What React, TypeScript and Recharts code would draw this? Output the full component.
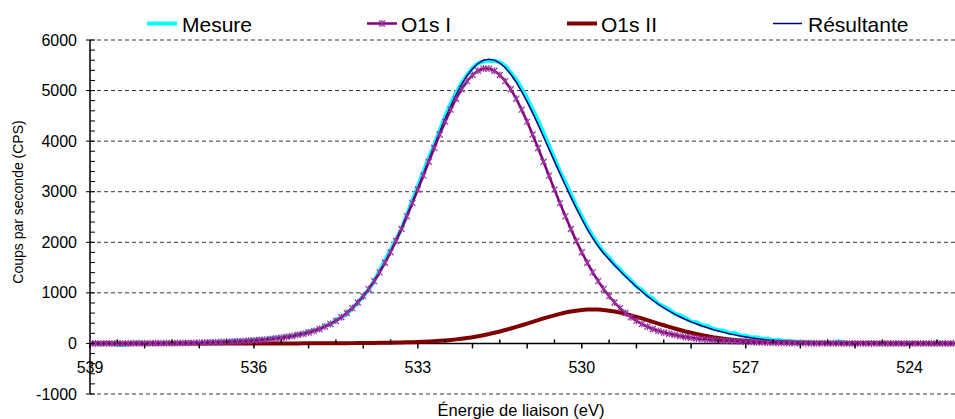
import React from "react"
import { LineChart, Line, XAxis, YAxis, ReferenceLine } from "recharts"

// énergie de liaison (eV), pas de 0.1 eV
const ENERGY = [
  539.0, 538.9, 538.8, 538.7, 538.6, 538.5, 538.4, 538.3, 538.2, 538.1,
  538.0, 537.9, 537.8, 537.7, 537.6, 537.5, 537.4, 537.3, 537.2, 537.1,
  537.0, 536.9, 536.8, 536.7, 536.6, 536.5, 536.4, 536.3, 536.2, 536.1,
  536.0, 535.9, 535.8, 535.7, 535.6, 535.5, 535.4, 535.3, 535.2, 535.1,
  535.0, 534.9, 534.8, 534.7, 534.6, 534.5, 534.4, 534.3, 534.2, 534.1,
  534.0, 533.9, 533.8, 533.7, 533.6, 533.5, 533.4, 533.3, 533.2, 533.1,
  533.0, 532.9, 532.8, 532.7, 532.6, 532.5, 532.4, 532.3, 532.2, 532.1,
  532.0, 531.9, 531.8, 531.7, 531.6, 531.5, 531.4, 531.3, 531.2, 531.1,
  531.0, 530.9, 530.8, 530.7, 530.6, 530.5, 530.4, 530.3, 530.2, 530.1,
  530.0, 529.9, 529.8, 529.7, 529.6, 529.5, 529.4, 529.3, 529.2, 529.1,
  529.0, 528.9, 528.8, 528.7, 528.6, 528.5, 528.4, 528.3, 528.2, 528.1,
  528.0, 527.9, 527.8, 527.7, 527.6, 527.5, 527.4, 527.3, 527.2, 527.1,
  527.0, 526.9, 526.8, 526.7, 526.6, 526.5, 526.4, 526.3, 526.2, 526.1,
  526.0, 525.9, 525.8, 525.7, 525.6, 525.5, 525.4, 525.3, 525.2, 525.1,
  525.0, 524.9, 524.8, 524.7, 524.6, 524.5, 524.4, 524.3, 524.2, 524.1,
  524.0, 523.9, 523.8, 523.7, 523.6, 523.5, 523.4, 523.3, 523.2,
]

const MESURE = [
  -12, 8, -20, 15, -6, -24, -33, -15, 7, 21,
  -6, 13, -12, 6, 20, -4, 15, 2, 27, 9,
  0, 26, 34, 18, 41, 22, 48, 60, 38, 66,
  71, 84, 70, 104, 118, 108, 148, 139, 190, 184,
  236, 262, 280, 352, 377, 466, 512, 590, 690, 808,
  935, 1060, 1230, 1442, 1648, 1850, 2058, 2265, 2548, 2830,
  3110, 3395, 3670, 3930, 4210, 4490, 4745, 4960, 5150, 5310,
  5445, 5540, 5575, 5585, 5590, 5560, 5490, 5360, 5215, 5040,
  4850, 4630, 4410, 4165, 3920, 3655, 3400, 3190, 2960, 2713,
  2516, 2296, 2122, 1957, 1805, 1702, 1560, 1463, 1340, 1251,
  1126, 1061, 952, 889, 786, 729, 673, 588, 558, 501,
  435, 420, 359, 347, 289, 266, 252, 202, 207, 159,
  151, 119, 122, 88, 96, 62, 70, 45, 52, 30,
  38, 14, 28, 5, 22, -4, 12, 40, 18, -10,
  15, 6, -8, 20, 4, -12, 10, -5, 16, -14,
  2, 12, -9, 7, -16, 5, 14, -6, 9,
]

const O1S_I = [
  0, 0, 0, 0, 1, 1, 1, 1, 2, 2,
  2, 3, 3, 4, 5, 6, 7, 8, 10, 12,
  14, 17, 20, 23, 27, 31, 36, 41, 46, 52,
  59, 67, 76, 86, 98, 112, 128, 145, 168, 190,
  217, 248, 286, 331, 384, 446, 518, 602, 699, 809,
  934, 1075, 1232, 1406, 1596, 1803, 2026, 2263, 2513, 2774,
  3043, 3317, 3592, 3865, 4131, 4385, 4622, 4838, 5027, 5186,
  5308, 5392, 5435, 5435, 5392, 5308, 5186, 5027, 4838, 4622,
  4385, 4131, 3865, 3592, 3317, 3043, 2774, 2513, 2263, 2026,
  1803, 1596, 1406, 1232, 1075, 934, 809, 699, 602, 518,
  446, 384, 331, 286, 248, 217, 190, 168, 145, 128,
  112, 98, 86, 76, 67, 59, 52, 46, 41, 36,
  31, 27, 23, 20, 17, 14, 12, 10, 8, 7,
  6, 5, 4, 3, 3, 2, 2, 2, 1, 1,
  1, 1, 0, 0, 0, 0, 0, 0, 0, 0,
  0, 0, 0, 0, 0, 0, 0, 0, 0,
]

const O1S_II = [
  0, 0, 0, 0, 0, 0, 0, 0, 0, 0,
  0, 0, 0, 0, 0, 0, 0, 0, 0, 0,
  0, 0, 0, 0, 0, 0, 0, 0, 0, 0,
  0, 0, 0, 0, 0, 1, 1, 1, 1, 2,
  2, 2, 3, 3, 4, 4, 5, 5, 6, 7,
  8, 9, 10, 11, 13, 15, 17, 19, 22, 25,
  29, 33, 38, 44, 51, 60, 69, 80, 93, 108,
  124, 143, 163, 185, 210, 236, 265, 295, 327, 359,
  393, 427, 461, 494, 526, 556, 585, 610, 631, 648,
  661, 670, 672, 670, 661, 648, 631, 610, 585, 556,
  526, 494, 461, 427, 393, 359, 327, 295, 265, 236,
  210, 185, 163, 143, 124, 108, 93, 80, 69, 60,
  51, 44, 38, 33, 29, 25, 22, 19, 17, 15,
  13, 11, 10, 9, 8, 7, 6, 5, 5, 4,
  4, 3, 3, 2, 2, 2, 1, 1, 1, 1,
  0, 0, 0, 0, 0, 0, 0, 0, 0,
]

const RESULTANTE = [
  0, 0, 0, 0, 1, 1, 1, 1, 2, 2,
  2, 3, 3, 4, 5, 6, 7, 8, 10, 12,
  14, 17, 20, 23, 27, 31, 36, 41, 46, 52,
  59, 67, 76, 86, 98, 113, 129, 146, 169, 192,
  219, 250, 289, 334, 388, 450, 523, 607, 705, 816,
  942, 1084, 1242, 1417, 1609, 1818, 2043, 2282, 2535, 2799,
  3072, 3350, 3630, 3909, 4182, 4445, 4691, 4918, 5120, 5294,
  5432, 5535, 5598, 5620, 5602, 5544, 5451, 5322, 5165, 4981,
  4778, 4558, 4326, 4086, 3843, 3599, 3359, 3123, 2894, 2672,
  2460, 2262, 2082, 1922, 1785, 1662, 1545, 1433, 1325, 1221,
  1121, 1026, 937, 854, 776, 704, 638, 578, 523, 473,
  427, 385, 346, 310, 277, 247, 219, 193, 169, 147,
  128, 111, 95, 81, 69, 58, 49, 41, 34, 28,
  23, 19, 15, 12, 10, 8, 7, 6, 5, 4,
  4, 3, 3, 2, 2, 2, 1, 1, 1, 1,
  0, 0, 0, 0, 0, 0, 0, 0, 0,
]

const X_TICKS = [
  539, 538.5, 538, 537.5, 537, 536.5, 536, 535.5, 535, 534.5, 534, 533.5,
  533, 532.5, 532, 531.5, 531, 530.5, 530, 529.5, 529, 528.5, 528, 527.5,
  527, 526.5, 526, 525.5, 525, 524.5, 524, 523.5,
]
const X_LABELS = [539, 536, 533, 530, 527, 524]
const Y_TICKS = [
  -1000, -800, -600, -400, -200, 0, 200, 400, 600, 800, 1000, 1200, 1400,
  1600, 1800, 2000, 2200, 2400, 2600, 2800, 3000, 3200, 3400, 3600, 3800,
  4000, 4200, 4400, 4600, 4800, 5000, 5200, 5400, 5600, 5800, 6000,
]
const GRID_LINES = [-1000, 1000, 2000, 3000, 4000, 5000, 6000]

const W = 955
const H = 419
const TOP = 40
const X_AXIS_H = 25
const Y_AXIS_W = 90
const PLOT_H = H - TOP - X_AXIS_H
// l'axe des X croise à 0, soit 1000 unités au-dessus du bas du tracé
const ZERO_SHIFT = (PLOT_H * 1000) / 7000
const FONT = "'Liberation Sans', Arial, sans-serif"

const rows = ENERGY.map((x, i) => ({
  x,
  mesure: MESURE[i],
  o1s1: O1S_I[i],
  o1s2: O1S_II[i],
  res: RESULTANTE[i],
}))

const XTick = (props: any) => {
  const { x, y, payload } = props
  const v = payload.value as number
  const y0 = y - ZERO_SHIFT
  const whole = Math.abs(v - Math.round(v)) < 1e-6
  return (
    <g>
      <line
        x1={x}
        x2={x}
        y1={whole ? y0 : y0 - 4}
        y2={whole ? y0 + 5 : y0}
        stroke="#000"
        strokeWidth={1.5}
      />
      {X_LABELS.includes(v) && (
        <text x={x} y={y0 + 24} textAnchor="middle" dominantBaseline="central" fontSize={16} fontFamily={FONT} fill="#000">
          {v}
        </text>
      )}
    </g>
  )
}

const YTick = (props: any) => {
  const { x, y, payload } = props
  const v = payload.value as number
  const major = v % 1000 === 0
  return (
    <g>
      <line x1={major ? x - 4 : x} x2={x + 5} y1={y} y2={y} stroke="#000" strokeWidth={1} />
      {major && (
        <text x={x - 13} y={y} textAnchor="end" dominantBaseline="central" fontSize={16} fontFamily={FONT} fill="#000">
          {v}
        </text>
      )}
    </g>
  )
}

const Star = ({ cx, cy }: { cx: number; cy: number }) => (
  <g stroke="#993399" strokeWidth={1.2}>
    <line x1={cx - 3} y1={cy - 3} x2={cx + 3} y2={cy + 3} />
    <line x1={cx - 3} y1={cy + 3} x2={cx + 3} y2={cy - 3} />
    <line x1={cx} y1={cy - 3.5} x2={cx} y2={cy + 3.5} />
  </g>
)

const renderStar = (p: any) => (
  <g key={`st-${p.index}`}>{p.cx != null && p.cy != null ? <Star cx={p.cx} cy={p.cy} /> : null}</g>
)

const LEGEND = [
  { label: "Mesure", color: "#00FFFF", width: 4, from: 147, to: 177, text: 182, star: false },
  { label: "O1s I", color: "#800080", width: 2.5, from: 367, to: 397, text: 401, star: true },
  { label: "O1s II", color: "#800000", width: 4, from: 567, to: 597, text: 601, star: false },
  { label: "Résultante", color: "#000080", width: 1.5, from: 773, to: 802, text: 808, star: false },
]

export default function App() {
  return (
    <div style={{ position: "relative", width: W, height: H, background: "#fff" }}>
      <style>{"body{margin:0}"}</style>
      <LineChart width={W} height={H} data={rows} margin={{ top: TOP, right: 0, bottom: 0, left: 0 }}>
        <XAxis
          dataKey="x"
          type="number"
          domain={[523.17, 539]}
          reversed
          allowDataOverflow
          ticks={X_TICKS}
          interval={0}
          height={X_AXIS_H}
          axisLine={false}
          tickLine={false}
          tickSize={0}
          tickMargin={0}
          tick={<XTick />}
        />
        <YAxis
          type="number"
          domain={[-1000, 6000]}
          ticks={Y_TICKS}
          interval={0}
          width={Y_AXIS_W}
          axisLine={{ stroke: "#000", strokeWidth: 1.5 }}
          tickLine={false}
          tickSize={0}
          tickMargin={0}
          tick={<YTick />}
        />
        {GRID_LINES.map((v) => (
          <ReferenceLine key={v} y={v} stroke="#333" strokeDasharray="4 3" strokeWidth={1} />
        ))}
        <ReferenceLine y={0} stroke="#000" strokeWidth={1.5} />
        <Line dataKey="mesure" type="linear" stroke="#00FFFF" strokeWidth={4} dot={false} isAnimationActive={false} />
        <Line dataKey="o1s2" type="linear" stroke="#800000" strokeWidth={4} dot={false} isAnimationActive={false} />
        <Line dataKey="res" type="linear" stroke="#000080" strokeWidth={1.5} dot={false} isAnimationActive={false} />
        <Line dataKey="o1s1" type="linear" stroke="#800080" strokeWidth={2.5} dot={renderStar} isAnimationActive={false} />
      </LineChart>
      <svg width={W} height={H} style={{ position: "absolute", left: 0, top: 0, pointerEvents: "none" }}>
        {LEGEND.map((l) => (
          <g key={l.label}>
            <line x1={l.from} x2={l.to} y1={23.5} y2={23.5} stroke={l.color} strokeWidth={l.width} />
            {l.star && <Star cx={(l.from + l.to) / 2} cy={23.5} />}
            <text x={l.text} y={32} fontSize={21} fontFamily={FONT} fill="#000">
              {l.label}
            </text>
          </g>
        ))}
        <text
          x={17.5}
          y={202}
          transform="rotate(-90 17.5 202)"
          textAnchor="middle"
          dominantBaseline="central"
          fontSize={14}
          fontFamily={FONT}
          fill="#000"
        >
          Coups par seconde (CPS)
        </text>
        <text x={521} y={410} textAnchor="middle" dominantBaseline="central" fontSize={16.5} fontFamily={FONT} fill="#000">
          Énergie de liaison (eV)
        </text>
      </svg>
    </div>
  )
}
